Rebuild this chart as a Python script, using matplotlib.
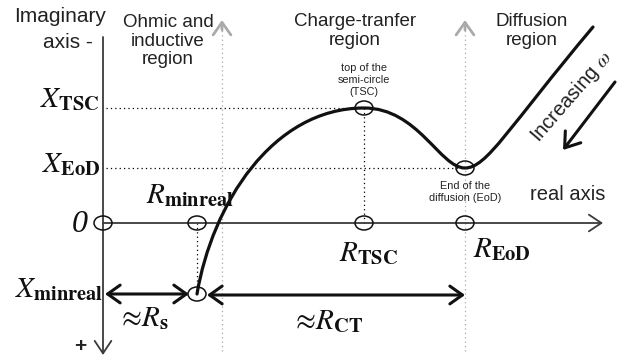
import matplotlib
matplotlib.use('Agg')
import matplotlib.pyplot as plt
from matplotlib.patches import Ellipse, PathPatch
from matplotlib.path import Path

plt.rcParams['font.family'] = ['Liberation Sans', 'DejaVu Sans']
plt.rcParams['mathtext.fontset'] = 'stix'

# 图中关键点（像素坐标，y 向下）
origin = (103, 223)
r_minreal = 197
r_tsc = 364
r_eod = 465
x_tsc = 108
x_eod = 168
x_minreal = 294
region_bounds = [222, 465]

# 曲线控制点（三段贝塞尔）
curve_pts = [(197, 294),
             (212, 205), (272, 108), (364, 108),
             (418, 108), (440, 168), (465, 168),
             (487, 168), (508, 128), (593, 27)]

fig = plt.figure(figsize=(6.22, 3.62), dpi=100)
ax = fig.add_axes([0, 0, 1, 1])
ax.set_xlim(0, 622)
ax.set_ylim(362, 0)
ax.axis('off')

axis_col = '#3a3a3a'
grey = '#aaaaaa'
dot = (0, (1, 2.5))

# 区域分界（灰色点线+箭头）
for xb in region_bounds:
    ax.plot([xb, xb], [26, 352], color=grey, lw=0.9, ls=dot)
    ax.annotate('', xy=(xb, 20), xytext=(xb, 30),
                arrowprops=dict(arrowstyle='->,head_length=0.45,head_width=0.32',
                                color=grey, lw=2, mutation_scale=20,
                                shrinkA=0, shrinkB=0))

# 坐标轴
ax.annotate('', xy=(origin[0], 355), xytext=(origin[0], 37),
            arrowprops=dict(arrowstyle='->,head_length=0.45,head_width=0.3',
                            color=axis_col, lw=1.3, mutation_scale=20,
                            shrinkA=0, shrinkB=0))
ax.annotate('', xy=(603, origin[1]), xytext=(origin[0], origin[1]),
            arrowprops=dict(arrowstyle='->,head_length=0.45,head_width=0.3',
                            color=axis_col, lw=1.3, mutation_scale=20,
                            shrinkA=0, shrinkB=0))

# 辅助点线
ax.plot([106, r_tsc], [x_tsc, x_tsc], color='k', lw=0.9, ls=dot)
ax.plot([106, r_eod], [x_eod, x_eod], color='k', lw=0.9, ls=dot)
ax.plot([r_tsc, r_tsc], [x_tsc, origin[1]], color='k', lw=0.9, ls=dot)
ax.plot([r_minreal, r_minreal], [origin[1], x_minreal], color='k', lw=0.9, ls=dot)

# 曲线
codes = [Path.MOVETO] + [Path.CURVE4] * 9
ax.add_patch(PathPatch(Path(curve_pts, codes), fill=False, lw=2.3,
                       edgecolor='#111111', capstyle='round', zorder=5))

# 圆圈标记
markers = [origin, (r_minreal, origin[1]), (r_tsc, origin[1]), (r_eod, origin[1]),
           (r_tsc, x_tsc), (r_eod, x_eod), (r_minreal, x_minreal)]
for mx, my in markers:
    ax.add_patch(Ellipse((mx, my), 18, 14, fill=False, lw=1.1,
                         edgecolor='#111111', zorder=6))

# 双向箭头
arr = dict(arrowstyle='<->,head_length=0.45,head_width=0.32', color='#111111',
           lw=2.2, mutation_scale=20, shrinkA=0, shrinkB=0)
ax.annotate('', xy=(189, x_minreal), xytext=(105, x_minreal), arrowprops=arr)
ax.annotate('', xy=(465, x_minreal + 1), xytext=(207, x_minreal + 1), arrowprops=arr)

# Increasing ω 箭头
ax.annotate('', xy=(563, 150), xytext=(615, 82),
            arrowprops=dict(arrowstyle='->,head_length=0.5,head_width=0.35',
                            color='#111111', lw=2.2, mutation_scale=20,
                            shrinkA=0, shrinkB=0))
ax.text(572, 97, r'Increasing $\omega$', rotation=49, fontsize=14.5, ha='center',
        va='center', color='#222222', rotation_mode='anchor')

# 文字
tc = '#222222'
ax.text(60, 17, 'Imaginary', fontsize=15, ha='center', va='center', color=tc)
ax.text(68, 42, 'axis -', fontsize=15, ha='center', va='center', color=tc)
ax.text(168, 41, 'Ohmic and\ninductive\nregion', fontsize=13.5, ha='center',
        va='center', linespacing=1.08, color=tc)
ax.text(355, 31, 'Charge-tranfer\nregion', fontsize=13.5, ha='center',
        va='center', linespacing=1.08, color=tc)
ax.text(532, 31, 'Diffusion\nregion', fontsize=13.5, ha='center',
        va='center', linespacing=1.08, color=tc)
ax.text(364, 80, 'top of the\nsemi-circle\n(TSC)', fontsize=7.8, ha='center',
        va='center', linespacing=1.2, color=tc)
ax.text(465, 192, 'End of the\ndiffusion (EoD)', fontsize=7.8, ha='center',
        va='center', linespacing=1.2, color=tc)
ax.text(568, 195, 'real axis', fontsize=14.5, ha='center', va='center', color=tc)

mc = '#111111'
ax.text(100, 107, r'$X_{\mathbf{TSC}}$', fontsize=21, ha='right', va='baseline', color=mc)
ax.text(100, 172, r'$X_{\mathbf{EoD}}$', fontsize=21, ha='right', va='baseline', color=mc)
ax.text(88, 232, '0', fontsize=23, ha='right', va='baseline', color=mc,
        family='Liberation Serif', style='italic')
ax.text(146, 203, r'$R_{\mathbf{minreal}}$', fontsize=21, ha='left', va='baseline', color=mc)
ax.text(103, 297, r'$X_{\mathbf{minreal}}$', fontsize=21, ha='right', va='baseline', color=mc)
ax.text(117, 326, r'$\approx\!R_{\mathbf{s}}$', fontsize=21, ha='left', va='baseline', color=mc)
ax.text(291, 329, r'$\approx\!R_{\mathbf{CT}}$', fontsize=21, ha='left', va='baseline', color=mc)
ax.text(339, 261, r'$R_{\mathbf{TSC}}$', fontsize=21, ha='left', va='baseline', color=mc)
ax.text(473, 257, r'$R_{\mathbf{EoD}}$', fontsize=21, ha='left', va='baseline', color=mc)
ax.text(80, 347, '+', fontsize=15, ha='center', va='center', color=tc,
        fontweight='bold')

fig.savefig('out.png', dpi=100)
